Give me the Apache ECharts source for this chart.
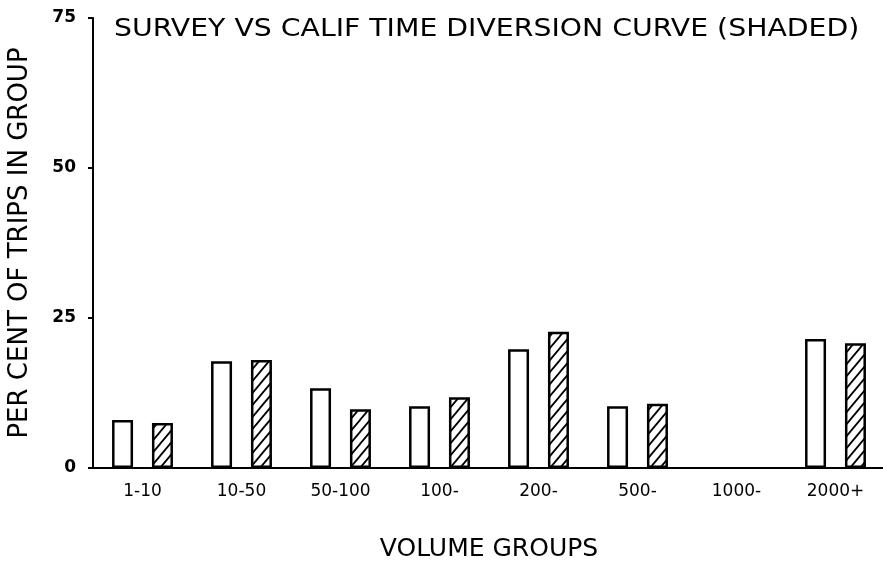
<!DOCTYPE html>
<html>
<head>
<meta charset="utf-8">
<script src="https://cdn.jsdelivr.net/npm/echarts@6/dist/echarts.min.js"></script>
<style>
  html, body { margin: 0; padding: 0; background: #fff; }
  #chart { width: 883px; height: 568px; }
</style>
</head>
<body>
<div id="chart"></div>
<script>
// Volume groups along the horizontal axis
const categories = ['1-10', '10-50', '50-100', '100-', '200-', '500-', '1000-', '2000+'];
// Per cent of trips in each group
const surveyValues = [8.0, 17.8, 13.3, 10.3, 19.8, 10.3, 0, 21.5];
const califValues = [7.5, 18.0, 9.8, 11.8, 22.7, 10.7, 0, 20.8];
const yTicks = [0, 25, 50, 75];
const titleText = 'SURVEY VS CALIF TIME DIVERSION CURVE (SHADED)';

// Diagonal hatch used for the shaded (diversion curve) bars
function hatchPattern() {
  const w = 10, h = 12;
  const c = document.createElement('canvas');
  c.width = w; c.height = h;
  const g = c.getContext('2d');
  g.fillStyle = '#fff';
  g.fillRect(0, 0, w, h);
  g.strokeStyle = '#000';
  g.lineWidth = 1.8;
  g.beginPath();
  g.moveTo(-w * 0.2, h * 1.2); g.lineTo(w * 1.2, -h * 0.2);
  g.moveTo(-w * 0.2, h * 0.2); g.lineTo(w * 0.2, -h * 0.2);
  g.moveTo(w * 0.8, h * 1.2); g.lineTo(w * 1.2, h * 0.8);
  g.stroke();
  return c;
}

// Zero-height bars leave no outline
function barData(values) {
  return values.map(v => v === 0 ? { value: v, itemStyle: { borderWidth: 0 } } : v);
}

const font = 'DejaVu Sans';
const chart = echarts.init(document.getElementById('chart'), null, { renderer: 'canvas' });
chart.setOption({
  animation: false,
  backgroundColor: '#fff',
  graphic: [{
    type: 'text',
    left: 114,
    top: 18,
    scaleX: 1.18,
    style: {
      text: titleText,
      font: 'normal 24px "DejaVu Sans"',
      fill: '#000'
    }
  }],
  grid: { left: 93, top: 18, width: 792, height: 450, containLabel: false, outerBoundsMode: 'none' },
  xAxis: {
    type: 'category',
    data: categories,
    boundaryGap: true,
    name: 'VOLUME GROUPS',
    nameLocation: 'middle',
    nameGap: 69,
    nameTextStyle: { fontFamily: font, fontSize: 25, color: '#000' },
    axisLine: { lineStyle: { color: '#000', width: 2 } },
    axisTick: { show: false },
    axisLabel: { fontFamily: font, fontSize: 17, color: '#000', margin: 15 }
  },
  yAxis: {
    type: 'value',
    min: yTicks[0],
    max: yTicks[yTicks.length - 1],
    interval: yTicks[1] - yTicks[0],
    name: 'PER CENT OF TRIPS IN GROUP',
    nameLocation: 'middle',
    nameGap: 60,
    nameTextStyle: { fontFamily: font, fontSize: 26, color: '#000' },
    axisLine: { show: true, lineStyle: { color: '#000', width: 2 } },
    axisTick: { show: true, length: 5, lineStyle: { color: '#000', width: 2 } },
    splitLine: { show: false },
    axisLabel: { fontFamily: font, fontSize: 17, fontWeight: 'bold', color: '#000', margin: 17 }
  },
  series: [
    {
      name: 'Survey',
      type: 'bar',
      data: barData(surveyValues),
      barWidth: 21,
      barGap: '90%',
      itemStyle: { color: '#fff', borderColor: '#000', borderWidth: 2.5 }
    },
    {
      name: 'Calif time diversion curve',
      type: 'bar',
      data: barData(califValues),
      barWidth: 21,
      itemStyle: {
        color: { image: hatchPattern(), repeat: 'repeat' },
        borderColor: '#000',
        borderWidth: 2.5
      }
    }
  ]
});
</script>
</body>
</html>
